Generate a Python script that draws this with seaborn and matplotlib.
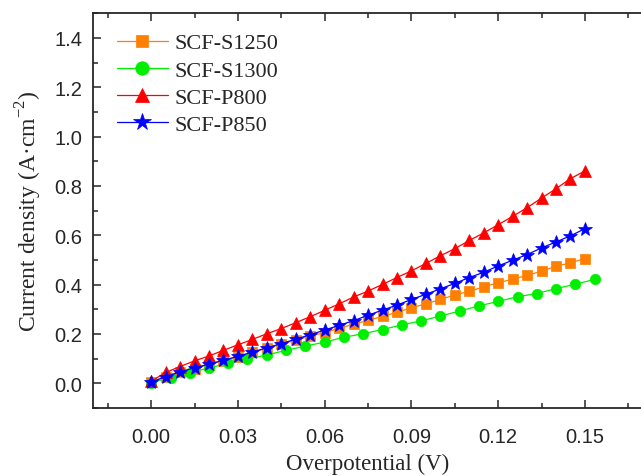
import numpy as np
import pandas as pd
import seaborn as sns
from matplotlib import pyplot as plt
from matplotlib.ticker import MultipleLocator

# data
x_common = [0.000, 0.005, 0.010, 0.015, 0.020, 0.025, 0.030, 0.035, 0.040, 0.045,
            0.050, 0.055, 0.060, 0.065, 0.070, 0.075, 0.080, 0.085, 0.090, 0.095,
            0.100, 0.105, 0.110, 0.115, 0.120, 0.125, 0.130, 0.135, 0.140, 0.145, 0.150]
s1250 = [0.005, 0.026, 0.044, 0.060, 0.076, 0.092, 0.108, 0.125, 0.142, 0.159,
         0.175, 0.191, 0.206, 0.223, 0.240, 0.255, 0.271, 0.288, 0.306, 0.322,
         0.340, 0.358, 0.373, 0.391, 0.408, 0.422, 0.438, 0.454, 0.475, 0.488, 0.506]
p800 = [0.008, 0.044, 0.068, 0.091, 0.111, 0.134, 0.156, 0.178, 0.201, 0.222,
        0.246, 0.270, 0.296, 0.322, 0.350, 0.374, 0.401, 0.429, 0.456, 0.486,
        0.517, 0.546, 0.579, 0.610, 0.643, 0.677, 0.712, 0.751, 0.789, 0.830, 0.861]
p850 = [0.005, 0.027, 0.046, 0.063, 0.078, 0.094, 0.109, 0.127, 0.144, 0.161,
        0.179, 0.197, 0.216, 0.235, 0.254, 0.276, 0.297, 0.317, 0.340, 0.361,
        0.383, 0.405, 0.429, 0.450, 0.476, 0.499, 0.522, 0.549, 0.573, 0.598, 0.627]
x_s1300 = [0.0000, 0.0067, 0.0133, 0.0200, 0.0267, 0.0333, 0.0400, 0.0467, 0.0533, 0.0600,
           0.0667, 0.0733, 0.0800, 0.0867, 0.0933, 0.1000, 0.1067, 0.1133, 0.1200, 0.1267,
           0.1333, 0.1400, 0.1467, 0.1533]
s1300 = [0.003, 0.023, 0.043, 0.063, 0.081, 0.098, 0.115, 0.134, 0.151, 0.167,
         0.187, 0.201, 0.218, 0.237, 0.253, 0.273, 0.293, 0.314, 0.332, 0.351,
         0.364, 0.384, 0.402, 0.421]

sns.set_style("ticks")
plt.rcParams['font.family'] = ['Liberation Serif', 'DejaVu Serif']
plt.rcParams['mathtext.fontset'] = 'custom'
plt.rcParams['mathtext.rm'] = 'Liberation Serif'

fig = plt.figure(figsize=(6.41, 4.77), dpi=100)
ax = fig.add_axes([93.3 / 641, 68 / 477, (642.8 - 93.3) / 641, (409 - 14.3) / 477])

series = [
    ('SCF-S1250', x_common, s1250, '#FF7F00', 's', 6.5),
    ('SCF-S1300', x_s1300, s1300, '#00EE00', 'o', 7.5),
    ('SCF-P800', x_common, p800, '#FF0000', '^', 8),
    ('SCF-P850', x_common, p850, '#0000FF', '*', 10),
]
for name, xs, ys, col, mk, ms in series:
    sns.lineplot(x=xs, y=ys, ax=ax, color=col, marker=mk, markersize=ms,
                 markeredgecolor=col, markeredgewidth=0.5, linewidth=0.9,
                 label=name)

ax.set_xlim(-0.02, 0.17)
ax.set_ylim(-0.1, 1.5)
ax.xaxis.set_major_locator(MultipleLocator(0.03))
ax.xaxis.set_minor_locator(MultipleLocator(0.015))
ax.yaxis.set_major_locator(MultipleLocator(0.2))
ax.yaxis.set_minor_locator(MultipleLocator(0.1))
ax.xaxis.set_major_formatter(plt.FormatStrFormatter('%.2f'))
ax.yaxis.set_major_formatter(plt.FormatStrFormatter('%.1f'))

ax.tick_params(which='both', direction='in', top=True, right=False, width=1.1,
               labelsize=14.5, labelfontfamily='Liberation Sans')
ax.tick_params(which='major', length=6)
ax.tick_params(which='minor', length=3.5)
ax.tick_params(axis='x', which='major', pad=14)
ax.tick_params(axis='y', which='major', pad=8)
for side in ['left', 'bottom', 'top']:
    ax.spines[side].set_linewidth(1.3)
ax.spines['right'].set_visible(False)

ax.set_xlabel('Overpotential (V)', fontsize=16.5, labelpad=4.5)
ax.set_ylabel('Current density (A·cm$^{-2}$)', fontsize=17, labelpad=7.5)

leg = ax.legend(loc='upper left', bbox_to_anchor=(0.0145, 0.99), frameon=False,
                fontsize=16, handlelength=2.3, handletextpad=0.3,
                labelspacing=0.3, numpoints=1, borderaxespad=0.3, markerscale=1.3)

fig.savefig('out.png', dpi=100)
